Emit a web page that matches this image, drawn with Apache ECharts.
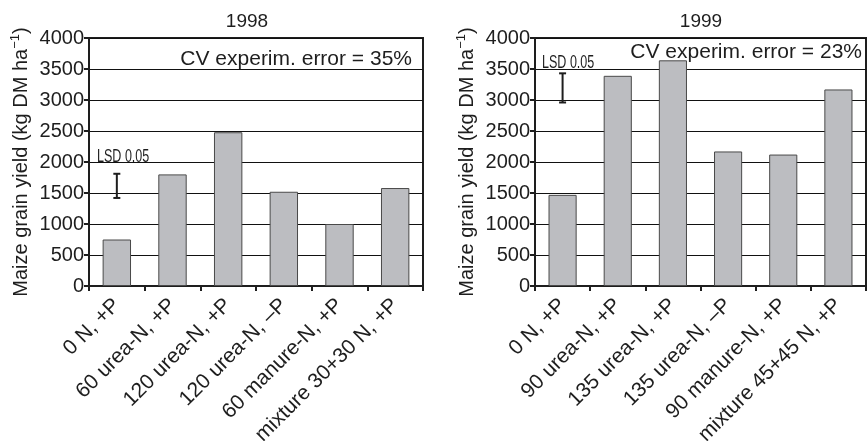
<!DOCTYPE html>
<html>
<head>
<meta charset="utf-8">
<script src="https://cdn.jsdelivr.net/npm/echarts@6/dist/echarts.min.js"></script>
<style>
  html, body { margin: 0; padding: 0; background: #ffffff; }
  #chart { width: 868px; height: 441px; }
</style>
</head>
<body>
<div id="chart"></div>
<script>
// Treatments and maize grain yields (kg DM/ha), two seasons
const treatments1998 = ['0 N, +P', '60 urea-N, +P', '120 urea-N, +P', '120 urea-N, \u2013P', '60 manure-N, +P', 'mixture 30+30 N, +P'];
const yield1998 = [750, 1800, 2480, 1520, 1000, 1580];
const lsd1998 = [1420, 1810];   // LSD 0.05 bar: low, high
const cv1998 = '35%';

const treatments1999 = ['0 N, +P', '90 urea-N, +P', '135 urea-N, +P', '135 urea-N, \u2013P', '90 manure-N, +P', 'mixture 45+45 N, +P'];
const yield1999 = [1470, 3390, 3640, 2170, 2120, 3170];
const lsd1999 = [2960, 3430];
const cv1999 = '23%';

const yTicks = { min: 0, max: 4000, interval: 500 };

const FONT = "'Liberation Sans', Arial, Helvetica, sans-serif";
const INK = '#1e1e1e';

const chart = echarts.init(document.getElementById('chart'), null, { renderer: 'canvas' });

function xAxisFor(gridIndex, cats) {
  return {
    type: 'category', gridIndex, data: cats,
    axisLine: { lineStyle: { color: INK, width: 2 } },
    axisTick: { show: true, length: 5, lineStyle: { color: INK, width: 2 } },
    axisLabel: { rotate: 45, interval: 0, margin: 16, fontFamily: FONT, fontSize: 21, color: INK },
    splitLine: { show: false }
  };
}

function yAxisFor(gridIndex) {
  return {
    type: 'value', gridIndex, min: yTicks.min, max: yTicks.max, interval: yTicks.interval,
    name: '{t|Maize grain yield (kg DM ha}{s|\u22121}{t|)}',
    nameLocation: 'middle', nameRotate: 90, nameGap: 56,
    nameTextStyle: {
      rich: {
        t: { fontFamily: FONT, fontSize: 20, color: INK, lineHeight: 24 },
        s: { fontFamily: FONT, fontSize: 13, color: INK, verticalAlign: 'top', lineHeight: 24, padding: [0, 0, 8, 0] }
      }
    },
    axisLine: { show: true, lineStyle: { color: INK, width: 2 } },
    axisTick: { show: true, length: 5, lineStyle: { color: INK, width: 2 } },
    axisLabel: { margin: 5, fontFamily: FONT, fontSize: 20, color: INK, formatter: v => String(v) },
    splitLine: { show: true, lineStyle: { color: '#111', width: 1 } }
  };
}

function lsdSeries(axisIndex, cats, lsd) {
  return {
    type: 'custom', xAxisIndex: axisIndex, yAxisIndex: axisIndex, z: 5,
    data: [[cats[0], lsd[0], lsd[1]]],
    encode: { x: 0, y: [1, 2] },
    renderItem(params, api) {
      const x = api.value(0);
      const lo = api.coord([x, api.value(1)]);
      const hi = api.coord([x, api.value(2)]);
      const cap = 3.5;
      const st = { stroke: INK, lineWidth: 2 };
      return {
        type: 'group',
        children: [
          { type: 'line', shape: { x1: lo[0], y1: lo[1], x2: hi[0], y2: hi[1] }, style: st },
          { type: 'line', shape: { x1: lo[0] - cap, y1: lo[1], x2: lo[0] + cap, y2: lo[1] }, style: st },
          { type: 'line', shape: { x1: hi[0] - cap, y1: hi[1], x2: hi[0] + cap, y2: hi[1] }, style: st }
        ]
      };
    }
  };
}

function barSeries(axisIndex, values) {
  return {
    type: 'bar', xAxisIndex: axisIndex, yAxisIndex: axisIndex, data: values,
    barWidth: '51%',
    itemStyle: { color: '#bcbdc1', borderColor: '#4a4a4a', borderWidth: 1 }
  };
}

function text(x, y, str, opts, extra) {
  return Object.assign({
    type: 'text', x, y, z: 10,
    style: Object.assign({ text: str, fill: INK, fontFamily: FONT, fontSize: 21 }, opts || {})
  }, extra || {});
}

// condensed "LSD 0.05" caption
function lsdText(x, y) {
  return text(x, y, 'LSD 0.05', { align: 'left', verticalAlign: 'middle', fontSize: 19 }, { scaleX: 0.66 });
}

chart.setOption({
  animation: false,
  grid: [
    { left: 89, right: 445, top: 38, bottom: 155, outerBoundsMode: 'none', show: true, borderColor: INK, borderWidth: 2, backgroundColor: 'transparent' },
    { left: 535, right: 2, top: 38, bottom: 155, outerBoundsMode: 'none', show: true, borderColor: INK, borderWidth: 2, backgroundColor: 'transparent' }
  ],
  xAxis: [xAxisFor(0, treatments1998), xAxisFor(1, treatments1999)],
  yAxis: [yAxisFor(0), yAxisFor(1)],
  series: [
    barSeries(0, yield1998), lsdSeries(0, treatments1998, lsd1998),
    barSeries(1, yield1999), lsdSeries(1, treatments1999, lsd1999)
  ],
  graphic: [
    text(247, 22, '1998', { align: 'center', verticalAlign: 'middle', fontSize: 19 }),
    text(701, 22, '1999', { align: 'center', verticalAlign: 'middle', fontSize: 19 }),
    text(412, 59, 'CV experim. error = ' + cv1998, { align: 'right', verticalAlign: 'middle' }),
    text(862, 52, 'CV experim. error = ' + cv1999, { align: 'right', verticalAlign: 'middle' }),
    lsdText(97, 157),
    lsdText(542, 63)
  ]
});
</script>
</body>
</html>
